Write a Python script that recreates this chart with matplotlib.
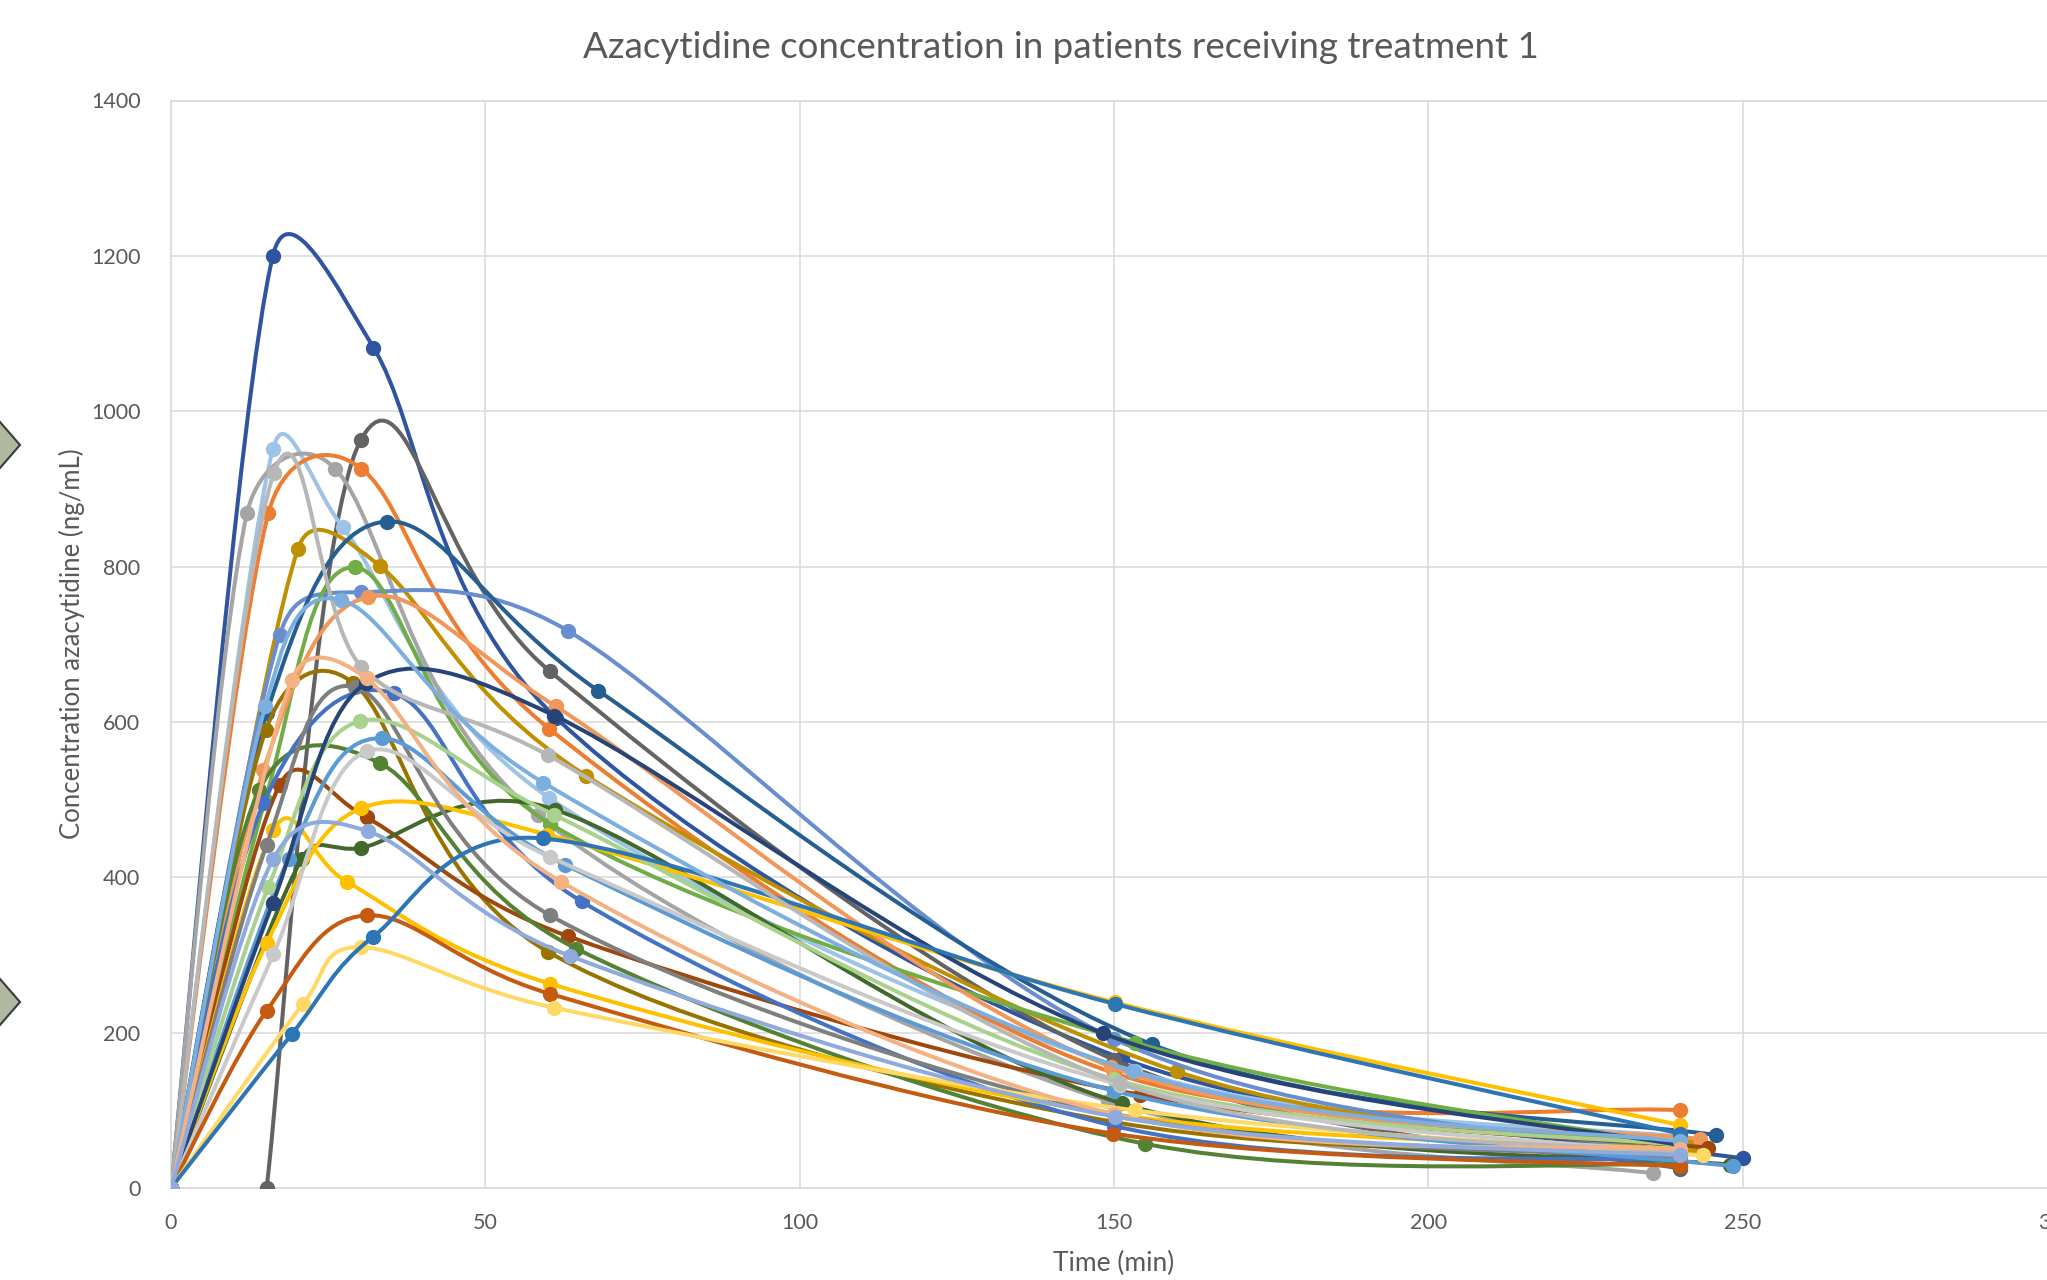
import numpy as np
import matplotlib
matplotlib.use("Agg")
import matplotlib.pyplot as plt
from matplotlib.path import Path
from matplotlib.patches import PathPatch, Polygon

plt.rcParams['font.family'] = ['Lato', 'DejaVu Sans']

title = "Azacytidine concentration in patients receiving treatment 1"
xlabel = "Time (min)"
ylabel = "Concentration azacytidine (ng/mL)"
xticks = [0, 50, 100, 150, 200, 250, 300]
yticks = [0, 200, 400, 600, 800, 1000, 1200, 1400]

# one entry per patient: sampling times (min), concentrations (ng/mL), colour
times = [
    [0, 16.2, 32.2, 61.3, 151.2, 250],     # P01
    [15.2, 30.2, 60.3, 150, 240],          # P02
    [0, 16.2, 27.3, 60.2, 153.3, 240],     # P03
    [0, 12.1, 26.1, 58.3, 149, 235.7],     # P04
    [0, 15.5, 30.3, 60.2, 150, 240],       # P05
    [0, 20.2, 33.2, 66, 160, 241.8],       # P06
    [0, 17.3, 30.3, 63.2, 150, 240],       # P07
    [0, 15.2, 34.3, 68, 156, 245.8],       # P08
    [0, 15.0, 29.3, 60.3, 153.3, 240],     # P09
    [0, 14.7, 31.4, 61.2, 149.6, 243.2],   # P10
    [0, 15.1, 29.0, 60.0, 150, 240],       # P11
    [0, 17.3, 31.1, 63.2, 154.1, 244.5],   # P12
    [0, 20.8, 30.3, 61.1, 151.2, 248],     # P13
    [0, 14.0, 33.2, 64.5, 154.9, 240],     # P14
    [0, 14.7, 35.4, 65.3, 150, 240],       # P15
    [0, 16.3, 28.0, 60.3, 150, 240],       # P16
    [0, 15.2, 30.3, 59.8, 150.1, 240],     # P17
    [0, 15.2, 29.3, 60.3, 150, 240],       # P18
    [0, 18.7, 33.5, 62.7, 150, 248.4],     # P20
    [0, 15.5, 30.1, 61.0, 150, 240],       # P21
    [0, 16.2, 31.0, 61.0, 148.3, 240],     # P22
    [0, 16.3, 31.1, 60.3, 151, 240],       # P23
    [0, 15.2, 31.1, 60.3, 149.9, 240],     # P24
    [0, 21.0, 30.2, 61.0, 153.3, 243.7],   # P25
    [0, 19.2, 32.1, 59.2, 150.1, 240],     # P26
    [0, 16.4, 30.3, 60.0, 151, 240],       # P27
    [0, 15.0, 27.1, 59.2, 153, 240],       # P28
    [0, 19.2, 31.1, 62.1, 150, 240],       # P29
    [0, 16.3, 31.4, 63.4, 150.1, 240],     # P19
]
concs = [
    [0, 1200, 1082, 605, 167, 38],
    [0, 963, 665, 165, 25],
    [0, 951, 851, 502, 150, 66],
    [0, 869, 926, 480, 112, 19],
    [0, 869, 926, 591, 148, 100],
    [0, 823, 801, 531, 150, 54],
    [0, 712, 767, 717, 192, 45],
    [0, 611, 858, 640, 185, 68],
    [0, 500, 799, 469, 187, 55],
    [0, 538, 761, 620, 156, 63],
    [0, 590, 650, 304, 85, 45],
    [0, 519, 477, 324, 120, 52],
    [0, 424, 438, 487, 109, 30],
    [0, 512, 547, 308, 57, 30],
    [0, 495, 637, 369, 80, 35],
    [0, 461, 394, 263, 95, 50],
    [0, 315, 489, 455, 239, 81],
    [0, 441, 645, 351, 95, 40],
    [0, 424, 579, 416, 125, 28],
    [0, 388, 601, 480, 140, 55],
    [0, 367, 650, 608, 199, 55],
    [0, 301, 562, 426, 133, 45],
    [0, 228, 351, 250, 70, 28],
    [0, 237, 310, 232, 100, 42],
    [0, 198, 323, 450, 237, 70],
    [0, 921, 671, 557, 135, 45],
    [0, 620, 757, 522, 150, 60],
    [0, 654, 656, 394, 95, 50],
    [0, 424, 459, 299, 92, 42],
]
colors = [
    "#2F55A0", "#636363", "#9DC3E6", "#A5A5A5", "#ED7D31", "#BF9000",
    "#698ED0", "#255E91", "#70AD47", "#F1975A", "#997300", "#9E480E",
    "#43682B", "#548235", "#4472C4", "#FFC000", "#FFC000", "#7F7F7F",
    "#5B9BD5", "#A9D18E", "#264478", "#C9C9C9", "#C55A11", "#FFD966",
    "#2E75B6", "#B7B7B7", "#7CAFDD", "#F4B183", "#8FAADC",
]

W, H, DPI = 2047, 1280, 100
fig = plt.figure(figsize=(W / DPI, H / DPI), dpi=DPI)
ax = fig.add_axes([171 / W, 92 / H, 1886 / W, 1087.5 / H])
ax.set_xlim(0, 300)
ax.set_ylim(0, 1400)
ax.set_xticks(xticks)
ax.set_yticks(yticks)
grid_c = "#D9D9D9"
ax.grid(True, color=grid_c, linewidth=1.1, zorder=0)
ax.set_axisbelow(True)
for s in ["left", "top", "bottom"]:
    ax.spines[s].set_color(grid_c)
    ax.spines[s].set_linewidth(1.2)
ax.spines["right"].set_visible(False)
ax.tick_params(length=0, labelsize=15.5, labelcolor="#595959", pad=18)
ax.tick_params(axis="y", pad=22)


def excel_smooth_path(xs, ys):
    pts = ax.transData.transform(np.column_stack([xs, ys]))
    n = len(pts)
    verts = [pts[0]]
    codes = [Path.MOVETO]
    for i in range(n - 1):
        p0 = pts[i - 1] if i > 0 else pts[i]
        p1 = pts[i]
        p2 = pts[i + 1]
        p3 = pts[i + 2] if i + 2 < n else pts[i + 1]
        seg = np.linalg.norm(p2 - p1)
        d1 = (p2 - p0) / 6.0
        d2 = (p3 - p1) / 6.0
        for d in (d1, d2):
            ln = np.linalg.norm(d)
            if ln > 0.5 * seg and ln > 0:
                d *= 0.5 * seg / ln
        verts += [p1 + d1, p2 - d2, p2]
        codes += [Path.CURVE4] * 3
    data_verts = ax.transData.inverted().transform(np.array(verts))
    return Path(data_verts, codes)


for k, (t, c, col) in enumerate(zip(times, concs, colors)):
    path = excel_smooth_path(t, c)
    ax.add_patch(PathPatch(path, facecolor="none", edgecolor=col,
                           linewidth=2.9, zorder=2 + 2 * k,
                           capstyle="round", joinstyle="round"))
    ax.plot(t, c, linestyle="none", marker="o", markersize=10,
            color=col, zorder=3 + 2 * k)

fig.text(1061 / W, 1 - 48 / H, title, ha="center", va="center",
         fontsize=26.5, color="#595959")
fig.text(72 / W, 1 - 644 / H, ylabel, ha="center", va="center",
         rotation=90, fontsize=18.5, color="#595959")
fig.text(1114 / W, 1 - 1263 / H, xlabel, ha="center", va="center",
         fontsize=19, color="#595959")

# decorative diamond handles at the left edge
for cy in (445, 1002):
    yy = H - cy
    fig.patches.append(Polygon([(-20, yy), (0, yy + 23), (20, yy), (0, yy - 23)],
                               closed=True, transform=None,
                               facecolor="#AEB9A0", edgecolor="#3A3A3A",
                               linewidth=1.5))

fig.savefig("out.png", dpi=DPI)
